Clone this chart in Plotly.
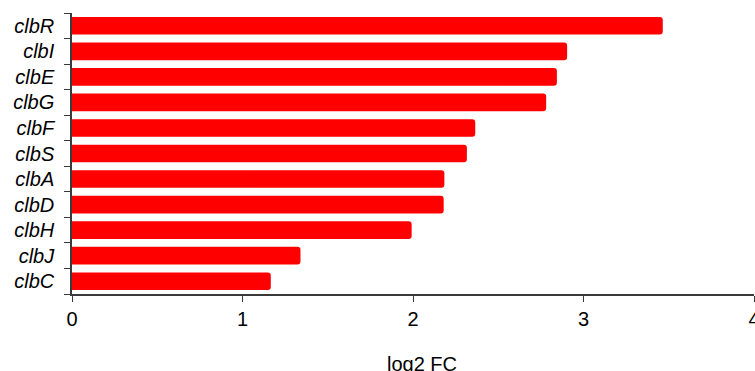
import plotly.graph_objects as go

genes = ["clbR", "clbI", "clbE", "clbG", "clbF", "clbS", "clbA", "clbD", "clbH", "clbJ", "clbC"]
log2_fc = [3.465, 2.904, 2.844, 2.781, 2.365, 2.316, 2.184, 2.180, 1.992, 1.340, 1.166]
x_ticks = [0, 1, 2, 3, 4]

fig = go.Figure(
    go.Bar(
        x=log2_fc,
        y=genes,
        orientation="h",
        marker=dict(color="#ff0000", line=dict(width=0), cornerradius=3),
        width=0.69,
    )
)

axis_color = "#3a3a3a"
font_family = "Liberation Sans, Arial, sans-serif"

fig.update_layout(
    width=755,
    height=371,
    margin=dict(l=72, r=1, t=13, b=77, autoexpand=False),
    paper_bgcolor="white",
    plot_bgcolor="white",
    showlegend=False,
    font=dict(family=font_family, size=20, color="black"),
    xaxis=dict(
        range=[0, 4],
        tickvals=x_ticks,
        ticks="outside",
        ticklen=6,
        tickwidth=1,
        tickcolor=axis_color,
        showline=True,
        linecolor=axis_color,
        linewidth=1.5,
        showgrid=False,
        zeroline=False,
        automargin=False,
        tickfont=dict(size=20),
        ticklabeloverflow="allow",
    ),
    yaxis=dict(
        categoryorder="array",
        categoryarray=genes[::-1],
        ticks="outside",
        tickson="boundaries",
        ticklen=6,
        tickwidth=1,
        tickcolor=axis_color,
        showline=True,
        linecolor=axis_color,
        linewidth=1.5,
        showgrid=False,
        zeroline=False,
        automargin=False,
        tickfont=dict(size=20, style="italic"),
        ticklabelstandoff=12,
    ),
    bargap=0.31,
    annotations=[
        dict(
            text="log2 FC",
            xref="paper",
            yref="paper",
            x=0.513,
            y=-0.249,
            xanchor="center",
            yanchor="middle",
            showarrow=False,
            font=dict(size=20),
        )
    ],
)

fig.write_html("out.html")
